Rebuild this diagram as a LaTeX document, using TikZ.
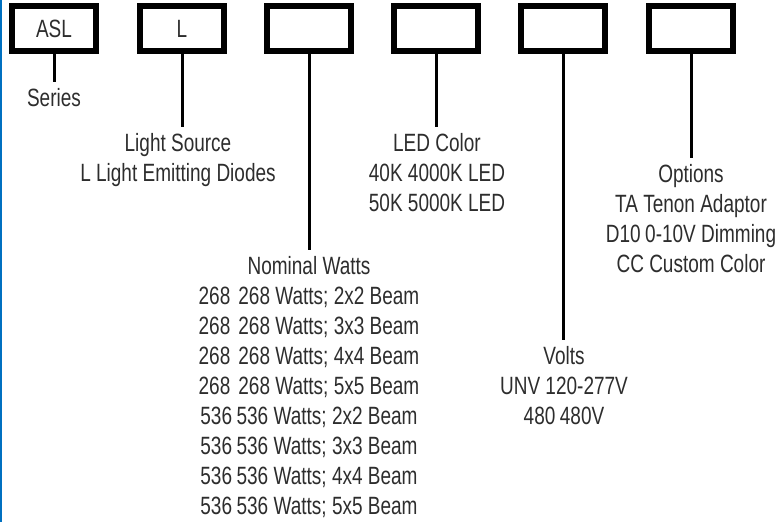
\documentclass[tikz,border=0pt]{standalone}
\usepackage{fontspec}
\setmainfont{Liberation Sans}[FakeStretch=0.76]
\definecolor{edgeblue}{RGB}{0,112,192}
\definecolor{txt}{RGB}{45,45,45}
\begin{document}
\begin{tikzpicture}[x=1pt,y=-1pt,
  codebox/.style={draw=black, line width=6pt, minimum width=84pt, minimum height=45pt, inner sep=0pt, font=\fontsize{25}{30}\selectfont, text=txt},
  stem/.style={line width=3pt},
  lbl/.style={anchor=north, align=center, inner xsep=0pt, inner ysep=6pt, font=\fontsize{25}{30}\selectfont, text=txt}]
\useasboundingbox (0,0) rectangle (778,522);
\fill[edgeblue] (0,0) rectangle (2,522);
% code boxes
\node[codebox] (b1) at (54,28.5) {ASL};
\node[codebox] (b2) at (182,28.5) {L};
\node[codebox] (b3) at (309,28.5) {};
\node[codebox] (b4) at (436,28.5) {};
\node[codebox] (b5) at (563,28.5) {};
\node[codebox] (b6) at (691,28.5) {};
% labels
\node[lbl] (l1) at (54,82) {Series};
\node[lbl] (l2) at (178,127) {Light Source\\L Light Emitting Diodes};
\node[lbl] (l3) at (309,250) {Nominal Watts\\
268\hspace{0.32em}268 Watts; 2x2 Beam\\
268\hspace{0.32em}268 Watts; 3x3 Beam\\
268\hspace{0.32em}268 Watts; 4x4 Beam\\
268\hspace{0.32em}268 Watts; 5x5 Beam\\
536\hspace{0.18em}536 Watts; 2x2 Beam\\
536\hspace{0.18em}536 Watts; 3x3 Beam\\
536\hspace{0.18em}536 Watts; 4x4 Beam\\
536\hspace{0.18em}536 Watts; 5x5 Beam};
\node[lbl] (l4) at (437,127) {LED Color\\40K 4000K LED\\50K 5000K LED};
\node[lbl] (l5) at (564,340) {Volts\\UNV 120-277V\\480\hspace{0.18em}480V};
\node[lbl] (l6) at (691,158) {Options\\TA Tenon Adaptor\\D10\hspace{0.18em}0-10V Dimming\\CC Custom Color};
% stems
\draw[stem] (b1.south) -- (b1.south |- l1.north);
\draw[stem] (b2.south) -- (b2.south |- l2.north);
\draw[stem] (b3.south) -- (b3.south |- l3.north);
\draw[stem] (b4.south) -- (b4.south |- l4.north);
\draw[stem] (b5.south) -- (b5.south |- l5.north);
\draw[stem] (b6.south) -- (b6.south |- l6.north);
\end{tikzpicture}
\end{document}
